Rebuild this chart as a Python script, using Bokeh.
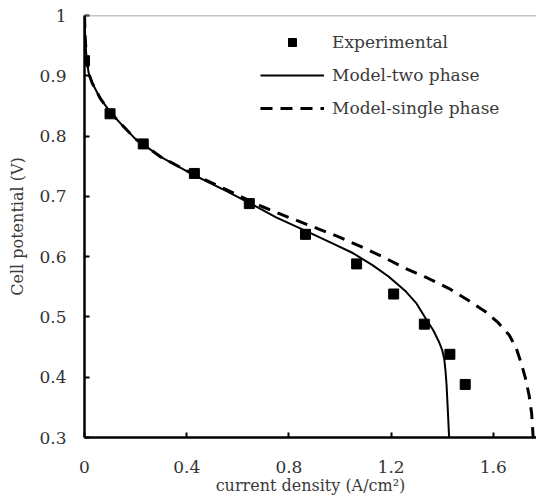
from bokeh.plotting import figure
from bokeh.models import Legend, LegendItem, FixedTicker, Range1d, Span
from bokeh.embed import file_html
from bokeh.resources import INLINE

exp_x = [0.0, 0.10, 0.23, 0.43, 0.645, 0.865, 1.065, 1.21, 1.33, 1.43, 1.49]
exp_y = [0.925, 0.837, 0.787, 0.738, 0.688, 0.637, 0.588, 0.538, 0.488, 0.438, 0.388]

two_x = [0.0, 0.003, 0.008, 0.016, 0.03, 0.0625, 0.1, 0.15, 0.2, 0.3, 0.43, 0.55, 0.65,
         0.75, 0.87, 0.96, 1.05, 1.127, 1.19, 1.258, 1.3, 1.336, 1.365, 1.388, 1.40,
         1.408, 1.413, 1.417, 1.422, 1.427]
two_y = [1.0, 0.96, 0.93, 0.905, 0.888, 0.862, 0.84, 0.817, 0.795, 0.765, 0.735, 0.71, 0.688,
         0.665, 0.642, 0.624, 0.606, 0.586, 0.567, 0.542, 0.522, 0.497, 0.478, 0.458, 0.445,
         0.43, 0.41, 0.387, 0.345, 0.3]

one_x = [0.0, 0.003, 0.008, 0.016, 0.03, 0.0625, 0.1, 0.15, 0.2, 0.3, 0.43, 0.55, 0.65,
         0.69, 0.8, 0.91, 1.0, 1.08, 1.166, 1.258, 1.34, 1.427, 1.5, 1.571, 1.62, 1.662,
         1.688, 1.708, 1.726, 1.74, 1.75, 1.756]
one_y = [1.0, 0.96, 0.93, 0.905, 0.888, 0.862, 0.84, 0.817, 0.795, 0.765, 0.736, 0.712, 0.692,
         0.684, 0.665, 0.647, 0.632, 0.617, 0.60, 0.58, 0.565, 0.547, 0.528, 0.508, 0.49, 0.47,
         0.45, 0.425, 0.398, 0.37, 0.34, 0.3]

x_ticks = [0, 0.4, 0.8, 1.2, 1.6]
x_tick_labels = ["0", "0.4", "0.8", "1.2", "1.6"]
y_ticks = [0.3, 0.4, 0.5, 0.6, 0.7, 0.8, 0.9, 1.0]
y_tick_labels = ["0.3", "0.4", "0.5", "0.6", "0.7", "0.8", "0.9", "1"]

FONT = "DejaVu Serif"

p = figure(width=536, height=497, output_backend="svg", toolbar_location=None,
           x_range=Range1d(0, 1.769), y_range=Range1d(0.3, 1.0),
           min_border_left=84, min_border_top=15, min_border_right=0, min_border_bottom=60)
p.outline_line_color = None
p.grid.visible = False
p.background_fill_color = "white"

p.add_layout(Span(location=1.0, dimension="width", line_color="#888888", line_width=1.5))

l2 = p.line(two_x, two_y, line_color="black", line_width=2)
l1 = p.line(one_x, one_y, line_color="black", line_width=3, line_dash="12 8")
sq = p.scatter(exp_x, exp_y, marker="square", size=10, fill_color="black", line_color="black")

for ax, ticks, labels in ((p.xaxis[0], x_ticks, x_tick_labels), (p.yaxis[0], y_ticks, y_tick_labels)):
    ax.ticker = FixedTicker(ticks=ticks)
    ax.major_label_overrides = {t: l for t, l in zip(ticks, labels)}
    ax.minor_tick_line_color = None
    ax.major_tick_in = 5
    ax.major_tick_out = 0
    ax.major_tick_line_width = 2
    ax.axis_line_width = 2.5
    ax.axis_line_color = "black"
    ax.major_tick_line_color = "black"
    ax.major_label_text_font = FONT
    ax.major_label_text_font_size = "17px"
    ax.major_label_text_color = "#333333"
    ax.axis_label_text_font = FONT
    ax.axis_label_text_font_size = "16px"
    ax.axis_label_text_font_style = "normal"
    ax.axis_label_text_color = "#3a3a3a"

p.xaxis.axis_label = "current density (A/cm²)"
p.yaxis.axis_label = "Cell potential (V)"
p.xaxis.major_label_standoff = 23
p.xaxis.axis_label_standoff = 0
p.yaxis.major_label_standoff = 18
p.yaxis.axis_label_standoff = 9

legend = Legend(items=[
    LegendItem(label="Experimental", renderers=[sq]),
    LegendItem(label="Model-two phase", renderers=[l2]),
    LegendItem(label="Model-single phase", renderers=[l1]),
], location=(176, 319))
legend.border_line_color = None
legend.background_fill_alpha = 0
legend.padding = 0
legend.margin = 0
legend.spacing = 13
legend.glyph_width = 64
legend.glyph_height = 20
legend.label_height = 20
legend.label_standoff = 8
legend.label_text_font = FONT
legend.label_text_font_size = "17px"
legend.label_text_color = "#3a3a3a"
p.add_layout(legend)

open("out.html", "w").write(file_html(p, INLINE))
